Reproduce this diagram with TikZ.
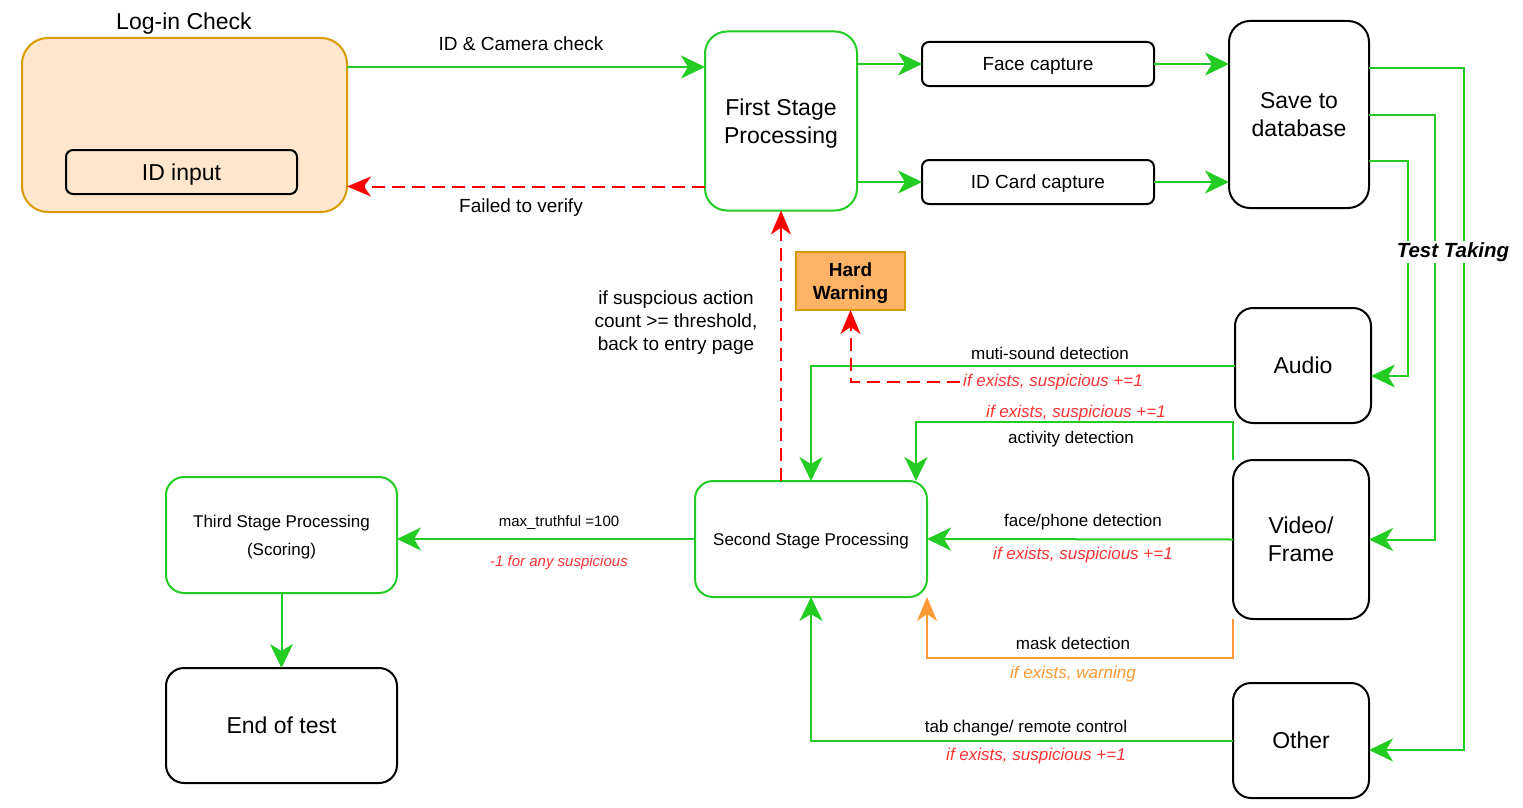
\documentclass[tikz,border=0pt]{standalone}
\usepackage{fontspec}
\setmainfont{Liberation Sans}
\usetikzlibrary{arrows.meta}
\definecolor{gline}{HTML}{22CC22}
\definecolor{rline}{HTML}{FF0000}
\definecolor{rtext}{HTML}{FF3333}
\definecolor{oline}{HTML}{FF9933}
\definecolor{peach}{HTML}{FFE6CC}
\definecolor{ostroke}{HTML}{D79B00}
\definecolor{wfill}{HTML}{FFB366}

\begin{document}
\begin{tikzpicture}[x=1pt,y=-1pt,auto=center,
		box/.style={draw,line width=2pt,inner sep=0pt,outer sep=0pt,align=center,text depth=0pt},
		gbox/.style={box,draw=gline},
		big/.style={font=\fontsize{23}{28}\selectfont},
		mid/.style={font=\fontsize{19}{23}\selectfont,align=center},
		lab/.style={font=\fontsize{17}{20}\selectfont},
		rlab/.style={font=\fontsize{17}{20}\selectfont\itshape,text=rtext},
		sml/.style={font=\fontsize{15}{18}\selectfont},
		ga/.style={draw=gline,line width=2pt,-{Stealth[length=24pt,width=23pt,inset=7pt]}},
		oa/.style={draw=oline,line width=2pt,-{Stealth[length=24pt,width=20pt,inset=7pt]}},
		rd/.style={draw=rline,line width=2pt,dash pattern=on 13pt off 7pt,-{Stealth[length=24pt,width=20pt,inset=7pt]}}]
	\useasboundingbox (0,0) rectangle (1523,808);
	% boxes
	\node[box,draw=ostroke,fill=peach,rounded corners=26pt,minimum width=325,minimum height=174] (login) at (184.5,125) {};
	\node[big] (logt) at (184,24) {Log-in Check};
	\node[box,rounded corners=7pt,minimum width=231,minimum height=44,big] (idin) at (181.5,172) {ID input};
	\node[gbox,rounded corners=22pt,minimum width=152,minimum height=179,big] (first) at (781,121) {First Stage\\Processing};
	\node[box,rounded corners=7pt,minimum width=232,minimum height=44,mid] (face) at (1038,64) {Face capture};
	\node[box,rounded corners=7pt,minimum width=232,minimum height=44,mid] (idcard) at (1038,182) {ID Card capture};
	\node[box,rounded corners=21pt,minimum width=140,minimum height=187,big] (save) at (1299,114.5) {Save to\\database};
	\node[box,draw=ostroke,fill=wfill,minimum width=109,minimum height=58,font=\fontsize{19}{23}\selectfont\bfseries] (warn) at (850.5,281) {Hard\\Warning};
	\node[box,rounded corners=18pt,minimum width=136,minimum height=115,big] (audio) at (1303,365.5) {Audio};
	\node[box,rounded corners=20pt,minimum width=136,minimum height=159,big] (video) at (1301,539.5) {Video/\\Frame};
	\node[box,rounded corners=18pt,minimum width=136,minimum height=115,big] (other) at (1301,740.5) {Other};
	\node[gbox,rounded corners=18pt,minimum width=232,minimum height=116,lab] (second) at (811,539) {Second Stage Processing};
	\node[gbox,rounded corners=18pt,minimum width=231,minimum height=116,font=\fontsize{17}{28}\selectfont] (third) at (281.5,535) {Third Stage Processing\\(Scoring)};
	\node[box,rounded corners=18pt,minimum width=231,minimum height=115,big] (endt) at (281.5,725.5) {End of test};
	% log-in and first stage
	\coordinate (lc) at ([yshift=-29pt]login.north east);
	\coordinate (fv) at ([yshift=24pt]first.south west);
	\draw[ga] (lc) -- (lc -| first.west);
	\draw[rd] (fv) -- (fv -| login.east);
	\node[mid] (camt) at (521,44) {ID \& Camera check};
	\node[mid] (failt) at (521,208) {Failed to verify};
	\draw[ga] (face.west -| first.east) -- (face.west);
	\draw[ga] (idcard.west -| first.east) -- (idcard.west);
	\draw[ga] (face.east) -- (face.east -| save.west);
	\draw[ga] (idcard.east) -- (idcard.east -| save.west);
	% test taking
	\draw[ga] ([yshift=47pt]save.south east) -- ++(39,0) |- ([yshift=-10.5pt]audio.east);
	\draw[ga] (save.east) -- ++(66,0) |- (video.east);
	\draw[ga] ([yshift=-47pt]save.north east) -- ++(95,0) |- ([yshift=-9.5pt]other.east);
	\node[fill=white,inner sep=1pt,font=\fontsize{20.5}{24}\selectfont\bfseries\itshape] (testt) at (1453,252) {Test Taking};
	% detections
	\draw[ga] (audio.west) -| (second.north);
	\node[lab] (mst) at (1050,353) {muti-sound detection};
	\node[rlab] (msr) at (1053,382) {if exists, suspicious +=1};
	\draw[rd] (msr.west) -| (warn.south);
	\draw[ga] (video.north west) -- ++(0,-38) -| ([xshift=-11pt]second.north east);
	\node[rlab] (acr) at (1076,413) {if exists, suspicious +=1};
	\node[lab] (act) at (1071,439) {activity detection};
	\draw[ga] (video.west) -- (second.east);
	\node[lab] (fpt) at (1083,522) {face/phone detection};
	\node[rlab] (fpr) at (1083,555) {if exists, suspicious +=1};
	\draw[oa] (video.south west) -- ++(0,39) -| (second.south east);
	\node[lab] (mkt) at (1073,643) {mask detection};
	\node[rlab,text=oline] (mko) at (1073,674) {if exists, warning};
	\draw[ga] (other.west) -| (second.south);
	\node[lab] (tct) at (1026,728) {tab change/ remote control};
	\node[rlab] (tcr) at (1036,756) {if exists, suspicious +=1};
	% back to first stage, scoring
	\draw[rd] (first.south |- second.north) -- (first.south);
	\node[mid] (bkt) at (676,323) {if suspcious action\\count >= threshold,\\back to entry page};
	\draw[ga] (second.west) -- (second.west -| third.east);
	\node[sml] (mxt) at (559,523) {max\_truthful =100};
	\node[font=\fontsize{15}{18}\selectfont\itshape,text=rtext] (mxr) at (559,563) {-1 for any suspicious};
	\draw[ga] (third.south) -- (endt.north);
\end{tikzpicture}
\end{document}
